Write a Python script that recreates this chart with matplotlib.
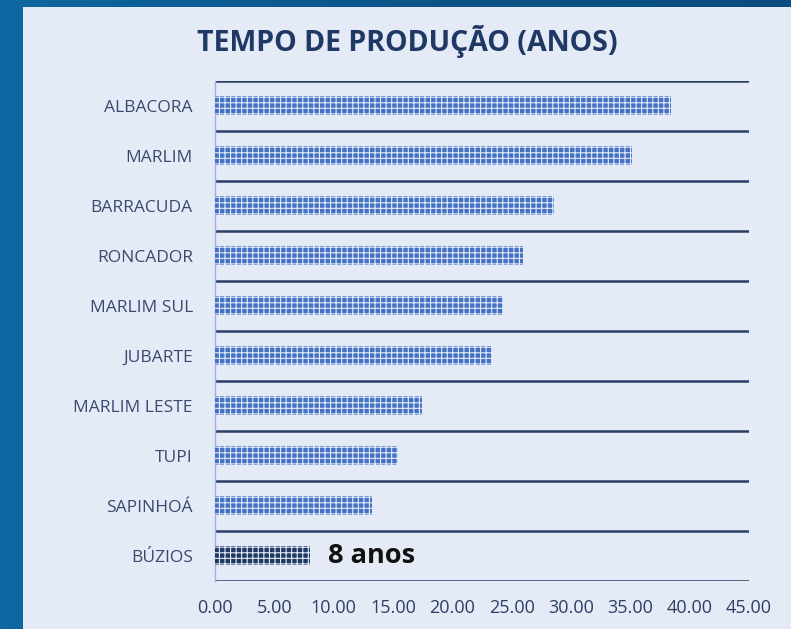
import numpy as np
import matplotlib
matplotlib.use("Agg")
import matplotlib.pyplot as plt
from matplotlib.patches import Rectangle
from matplotlib.colors import LinearSegmentedColormap

# ---- data ----
fields = ['ALBACORA', 'MARLIM', 'BARRACUDA', 'RONCADOR', 'MARLIM SUL',
          'JUBARTE', 'MARLIM LESTE', 'TUPI', 'SAPINHOÁ', 'BÚZIOS']
anos = [38.4, 35.1, 28.6, 25.95, 24.3, 23.35, 17.45, 15.45, 13.25, 8.0]
xticks = [0, 5, 10, 15, 20, 25, 30, 35, 40, 45]
title = 'TEMPO DE PRODUÇÃO (ANOS)'
highlight_label = '8 anos'

W, H = 791, 629
plt.rcParams['font.family'] = ['Open Sans', 'DejaVu Sans']
plt.rcParams['hatch.linewidth'] = 0.8

fig = plt.figure(figsize=(W / 100, H / 100), dpi=100)

# background gradient + light panel
bg = fig.add_axes([0, 0, 1, 1], zorder=-10)
grad = np.linspace(0, 1, 256)[None, :]
cmap = LinearSegmentedColormap.from_list('bg', ['#0E67A1', '#0B5589', '#0A4C7D'])
bg.imshow(grad, aspect='auto', cmap=cmap, extent=[0, 1, 0, 1])
bg.add_patch(Rectangle((23 / W, 0), 1 - 23 / W, 1 - 7 / H,
                       facecolor='#E4EAF6', edgecolor='none', transform=bg.transAxes))
bg.set_xlim(0, 1)
bg.set_ylim(0, 1)
bg.axis('off')

ax = fig.add_axes([215 / W, 1 - 581 / H, (749 - 215) / W, (581 - 81) / H])
ax.set_facecolor('none')

y = np.arange(len(fields))
colors = ['#4472C4'] * (len(fields) - 1) + ['#1F3864']
ax.barh(y, anos, height=0.38, color=colors, edgecolor='#E4EAF6',
        linewidth=0, hatch='+++', zorder=3)

ax.set_xlim(0, 45)
ax.set_ylim(len(fields) - 0.5, -0.5)

# horizontal separators
ax.hlines(np.arange(-0.5, len(fields) + 0.5, 1), 0, 45, colors='#2B3F66',
          linewidth=1.8, zorder=2)

for s in ['top', 'right', 'bottom']:
    ax.spines[s].set_visible(False)
ax.spines['left'].set_color('#9DB4DF')
ax.spines['left'].set_linewidth(1.0)

ax.set_yticks(y)
ax.set_yticklabels(fields, fontsize=12.5, color='#3A4A6E')
ax.set_xticks(xticks)
ax.set_xticklabels([f'{v:.2f}' for v in xticks], fontsize=13, color='#2E3F63')
ax.tick_params(axis='y', length=0, pad=16)
ax.tick_params(axis='x', length=0, pad=13)

ax.annotate(highlight_label, xy=(anos[-1], y[-1]), xytext=(13, 0),
            textcoords='offset points', va='center', ha='left',
            fontsize=19.5, fontweight='bold', color='#111111', zorder=4)

fig.text(407 / W, 1 - 42 / H, title, ha='center', va='center',
         fontsize=20.5, fontweight='bold', color='#1F3864')

fig.savefig('out.png', dpi=100)
